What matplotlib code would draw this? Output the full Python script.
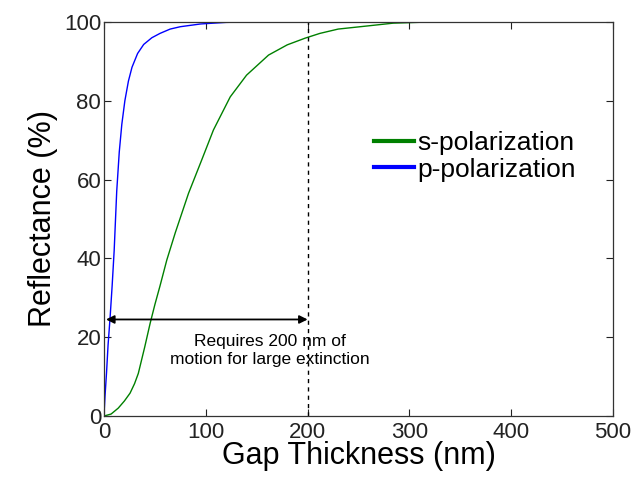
import matplotlib
matplotlib.use("Agg")
import matplotlib.pyplot as plt

plt.rcParams['font.family'] = ['Liberation Sans', 'DejaVu Sans']

# values
gap_s = [0, 7, 14, 20, 25.6, 30, 33.7, 40, 45.3, 50, 55, 61.7, 70, 83, 96,
         107.5, 124, 140, 161.6, 180, 197.6, 212, 230, 259, 284, 320, 500]
refl_s = [0, 0.5, 2, 3.8, 5.8, 8.2, 10.8, 17.5, 23.5, 28.3, 33, 39.6, 46.5, 56.5, 65,
          72.6, 81, 86.5, 91.6, 94.2, 95.9, 97.1, 98.2, 99, 99.7, 100, 100]

gap_p = [0, 1, 2.5, 4, 6, 8, 10, 12.5, 15, 17.5, 20.5, 24, 27.5, 33, 39, 47, 55,
         65, 75, 95, 120, 140, 315]
refl_p = [0, 5, 11, 18, 25, 33, 42, 57, 67, 74, 80, 85, 88.5, 92, 94.3, 96, 97.1,
          98.2, 98.8, 99.5, 99.9, 100, 100]

marker_x = 200
arrow_y = 24.5

fig = plt.figure(figsize=(6.36, 4.83), dpi=100)
ax = fig.add_axes([0.1635, 0.1387, 0.8005, 0.8158])

ax.plot(gap_s, refl_s, color='#008000', lw=1.0, label='s-polarization')
ax.plot(gap_p, refl_p, color='#0000ff', lw=1.0, label='p-polarization')
ax.plot([marker_x, marker_x], [0, 100], 'k--', lw=1.0, dashes=(3, 3))

ax.annotate('', xy=(2, arrow_y), xytext=(marker_x, arrow_y),
            arrowprops=dict(arrowstyle='<|-|>', color='black', lw=1.3,
                            mutation_scale=12, shrinkA=0, shrinkB=0))
ax.text(163, 16.5, 'Requires 200 nm of\nmotion for large extinction',
        ha='center', va='center', fontsize=12.5, linespacing=1.25)

ax.set_xlim(0, 500)
ax.set_ylim(0, 100)
ax.set_xticks([0, 100, 200, 300, 400, 500])
ax.set_yticks([0, 20, 40, 60, 80, 100])
ax.tick_params(direction='in', top=True, right=True, length=5, labelsize=16,
               colors='#222222')
ax.tick_params(axis='x', pad=4)
ax.tick_params(axis='y', pad=2)
for s in ax.spines.values():
    s.set_color('#333333')
    s.set_linewidth(0.9)

ax.set_xlabel('Gap Thickness (nm)', fontsize=22, labelpad=-1)
ax.set_ylabel('Reflectance (%)', fontsize=22, labelpad=4)

leg = ax.legend(loc='upper left', bbox_to_anchor=(0.51, 0.75), frameon=False,
                fontsize=19, handlelength=1.5, handletextpad=0.15,
                labelspacing=0.1, borderaxespad=0)
for h in leg.get_lines():
    h.set_linewidth(3)

fig.savefig('out.png', dpi=100)
